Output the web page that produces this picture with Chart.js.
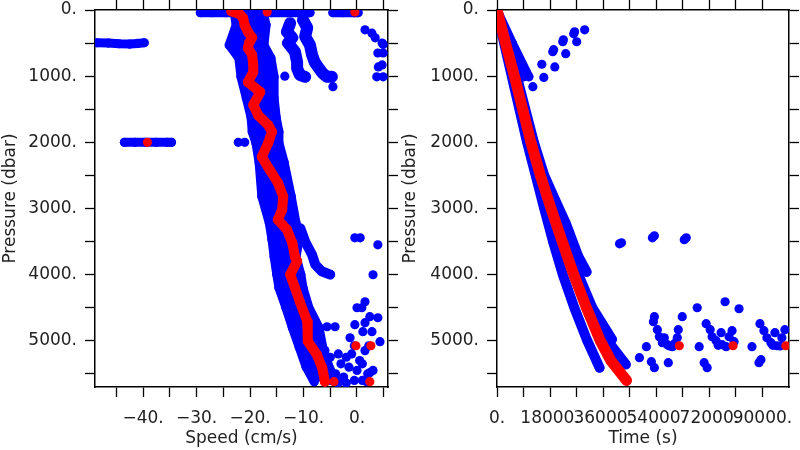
<!DOCTYPE html>
<html>
<head>
<meta charset="utf-8">
<script src="https://cdn.jsdelivr.net/npm/chart.js@4.4.1/dist/chart.umd.min.js"></script>
<style>
  body { margin: 0; background: #fff; }
  #wrap { display: flex; width: 800px; height: 450px; }
  canvas { display: block; }
</style>
</head>
<body>
<div id="wrap">
  <canvas id="speedChart" width="400" height="450"></canvas>
  <canvas id="timeChart" width="400" height="450"></canvas>
</div>
<script>
// ---- tick values ----
const pressTicks = [0, 500, 1000, 1500, 2000, 2500, 3000, 3500, 4000, 4500, 5000, 5500];
const speedTicks = [-45, -40, -35, -30, -25, -20, -15, -10, -5, 0, 5];
const timeTicks = [0, 9000, 18000, 27000, 36000, 45000, 54000, 63000, 72000, 81000, 90000];

// ---- left panel: speed (cm/s) against pressure (dbar) ----
// edges of the main blue cloud
const bandPres = [20, 227, 530, 725, 1010, 1330, 1630, 1840, 2010, 2310, 2820, 3220, 3470, 3730, 4000, 4200, 4500, 4800, 5100, 5400, 5620];
const bandLeftSpeed = [-23.0, -22.6, -23.9, -22.1, -21.7, -20.7, -19.8, -19.6, -18.9, -18.3, -17.8, -16.4, -15.9, -15.5, -15.0, -14.6, -13.3, -12.1, -10.8, -9.5, -8.0];
const bandRightSpeed = [-17.6, -17.0, -17.4, -16.1, -15.5, -15.5, -15.1, -14.6, -14.6, -13.6, -12.3, -11.4, -10.8, -11.4, -10.5, -10.1, -9.0, -7.1, -6.4, -5.2, -3.9];

// red mean profile
const meanPres = [20, 60, 120, 230, 330, 420, 500, 575, 680, 830, 940, 1090, 1240, 1435, 1590, 1740, 1840, 2010, 2220, 2420, 2610, 2820, 3020, 3170, 3320, 3520, 3730, 3800, 4000, 4200, 4410, 4710, 5010, 5210, 5410, 5620];
const meanSpeed = [-23.5, -22.0, -21.3, -21.0, -20.4, -19.6, -20.2, -20.4, -19.6, -19.4, -19.4, -20.4, -18.1, -19.4, -18.5, -16.6, -15.9, -16.6, -17.8, -16.3, -14.8, -13.8, -14.0, -14.8, -13.1, -12.1, -11.6, -11.2, -12.5, -11.6, -10.7, -9.3, -9.2, -7.5, -6.5, -6.0];
const meanExtraSpeed = [-16.8, -0.4, -39.2, -0.2, 2.6, -4.3, 2.4];
const meanExtraPres = [30, 30, 2000, 5076, 5076, 5620, 5620];

// deep branch that leaves the cloud and stops at 4000 dbar
const branchPres = [3300, 3500, 3700, 3850, 3950, 4000];
const branchSpeed = [-10.6, -9.7, -8.4, -7.8, -6.6, -5.0];

// two short profiles near the surface
const shallowAPres = [200, 330, 420, 500, 630, 785, 880, 980, 1010];
const shallowASpeed = [-12.5, -13.1, -12.1, -12.9, -11.6, -11.2, -11.2, -10.7, -9.7];
const shallowBPres = [150, 270, 400, 530, 680, 790, 860, 950, 1010, 1010];
const shallowBSpeed = [-10.1, -9.3, -9.7, -8.8, -8.4, -7.9, -7.3, -6.5, -5.6, -4.7];

// horizontal rows of points
const surfaceRowSpeed = [-29.3, -27, -24.5, -22, -19, -16, -13, -10.5, -8.8];
const surfaceRowPres = [40, 40, 40, 40, 40, 40, 40, 40, 40];
const surfaceRow2Speed = [-4.5, -2.5, -0.5, 0.2];
const surfaceRow2Pres = [40, 40, 40, 40];
const row500Speed = [-48.6, -46.5, -44.5, -42.5, -41, -39.8];
const row500Pres = [495, 500, 510, 515, 505, 495];
const row2000Speed = [-43.5, -41.5, -39.5, -37.5, -35.5, -34.7];
const row2000Pres = [2000, 2000, 2000, 2000, 2000, 2000];

// loose points
const looseSpeed = [-4.5, -13.5, -22.2, -21.0,
  1.5, 2.8, 3.4, 4.7, 4.9, 3.9, 4.9, 4.7, 4.0, 3.7, 4.9,
  -0.4, 0.6, 3.9, 3.0, 1.5, 0, 0.9, 2.4, 3.9, -0.4, 1.5, -5.6, -4.1, -1.3, 1.1, 2.8, 4.3, -0.5, 2.2,
  -7, -6, -5, -3.5, -2, -1, 0.5, 1.5, -3, -1.5, 0, 1, -4, -2.5, -0.5, 1, -5, -3.5, 2, 2.4, 3.0, 1.8, -2, -6, -6.5];
const loosePres = [1160, 1000, 2000, 2000,
  300, 350, 420, 500, 520, 650, 650, 830, 860, 1010, 1010,
  3444, 3444, 3550, 4003, 4411, 4502, 4502, 4637, 4653, 4758, 4728, 4789, 4789, 4955, 4864, 4864, 5015, 5076, 5076,
  5000, 5150, 5250, 5200, 5250, 5200, 5300, 5150, 5350, 5400, 5450, 5350, 5500, 5550, 5600, 5600, 5600, 5640, 5500, 5483, 5450, 5620, 5640, 5450, 5550];

// ---- right panel: time (s) against pressure (dbar) ----
const meanDescentPres = [0, 500, 1000, 1500, 2000, 2500, 3000, 3500, 4000, 4500, 5000, 5300, 5600];
const meanDescentTime = [0, 2900, 5900, 8700, 11500, 14700, 18300, 22100, 26000, 30300, 35000, 38600, 43900];
const fastPres = [0, 500, 1000, 1500, 2000, 2500, 3000, 3500, 4000, 4500, 5000, 5410];
const fastTime = [0, 2400, 5000, 7600, 10200, 13100, 16000, 19000, 22300, 26200, 30600, 34800];
const upperPres = [0, 500, 1000, 1500, 2000, 2500, 2900, 3220, 3730, 3960];
const upperTime = [0, 3300, 6700, 9600, 12500, 16000, 20000, 23300, 27600, 30400];
const slowAPres = [0, 500, 1000, 1500, 2000, 2500, 3000, 3500, 4000, 4500, 4980];
const slowATime = [0, 3100, 6400, 9300, 12300, 15700, 19400, 23400, 27600, 32300, 39000];
const slowBPres = [0, 500, 1000, 1500, 2000, 2500, 3000, 3500, 4000, 4500, 5000, 5360];
const slowBTime = [0, 3000, 6200, 9000, 11900, 15300, 19000, 22900, 27000, 31500, 37500, 43700];
const wedgePres = [0, 500, 1010];
const wedgeATime = [0, 5200, 10800];
const wedgeBTime = [0, 4300, 9000];
const wedgeCTime = [0, 3600, 7500];

const redTimeExtra = [61800, 80030, 97930];
const redPresExtra = [5076, 5076, 5076];

const scatterTime = [12160, 15200, 15870, 18900, 19200, 19590, 22290, 22500, 23300, 26000, 26300, 27020, 29720,
  41540, 42210, 52680, 53360, 63490, 64160, 67880, 77330, 82060,
  48290, 50650, 52340, 53360, 53360, 53020, 54370, 55040, 56730, 56060, 57750, 59440, 61120, 61460, 62810, 58080, 58500, 60300,
  68550, 70240, 71250, 70910, 72270, 72940, 74290, 75980, 76320, 77670, 79700, 78680, 80370, 75000,
  86450, 88810, 89490, 89150, 90500, 91510, 92870, 94220, 94890, 96580, 97600, 93500, 96000];
const scatterPres = [1160, 820, 1020, 630, 600, 860, 480, 450, 660, 360, 330, 480, 300,
  3535, 3520, 3444, 3414, 3474, 3444, 4502, 4411, 4517,
  5257, 5091, 5317, 5408, 4637, 4713, 4834, 4940, 4955, 5030, 5060, 5091, 4955, 4834, 4637, 5332, 5080, 5040,
  5091, 5332, 5408, 4743, 4834, 4940, 5000, 4879, 5060, 5091, 4849, 4940, 5015, 5070,
  5091, 5332, 5287, 4743, 4849, 4955, 5030, 4879, 5076, 4955, 4834, 5070, 5080];

const BLUE = '#0000ff';
const RED = '#ff0000';

function toPoints(xs, ps) {
  return xs.map((x, i) => ({ x: x, y: ps[i] }));
}

// a thick line through round markers, so a profile looks like overlapping dots
function trace(xs, ps, color, extra) {
  return Object.assign({
    type: 'line',
    data: toPoints(xs, ps),
    borderColor: color,
    backgroundColor: color,
    borderWidth: 9,
    borderCapStyle: 'round',
    borderJoinStyle: 'round',
    pointRadius: 4.6,
    pointBorderWidth: 0,
    pointBackgroundColor: color,
    pointHoverRadius: 4.6,
    fill: false,
    tension: 0,
    order: color === RED ? 0 : 1,
    xAxisID: 'x',
    yAxisID: 'y'
  }, extra || {});
}

function dots(xs, ps, color) {
  return trace(xs, ps, color, { showLine: false });
}

function speedLabel(v) {
  if (v % 10 !== 0) return '';
  if (v === 0) return '0.';
  return (v < 0 ? '\u2212' + (-v) : v) + '.';
}
function timeLabel(v) {
  return v % 18000 === 0 ? v + '.' : '';
}
function pressLabel(v) {
  return v % 1000 === 0 ? v + '.' : '';
}

// fixed box sizes so the plot frame lands where it should
function fixBox(w, h) {
  return s => {
    if (w !== null) s.width = w;
    if (h !== null) s.height = h;
    s.paddingTop = 0;
    s.paddingBottom = 0;
    s.paddingLeft = 0;
    s.paddingRight = 0;
  };
}

function buildScales(xMin, xMax, xTicks, xFormat, xTitle, leftWidth, rightWidth) {
  const font = { family: 'DejaVu Sans', size: 17 };
  const grid = { drawOnChartArea: false, drawTicks: true, tickLength: 10, tickColor: '#000', tickWidth: 1.3 };
  const border = { display: true, color: '#000', width: 1.5 };
  const setTicks = vals => scale => { scale.ticks = vals.map(v => ({ value: v })); };
  return {
    x: {
      type: 'linear', position: 'bottom', min: xMin, max: xMax,
      afterBuildTicks: setTicks(xTicks),
      afterFit: fixBox(null, 63),
      grid: grid, border: border,
      ticks: { font: font, color: '#222', padding: 11, maxRotation: 0, autoSkip: false,
               callback: v => xFormat(Math.round(v)) },
      title: { display: true, text: xTitle, font: font, color: '#222', padding: { top: 0, bottom: 1 } }
    },
    x2: {
      type: 'linear', position: 'top', min: xMin, max: xMax,
      afterBuildTicks: setTicks(xTicks),
      afterFit: fixBox(null, 10),
      grid: grid, border: border,
      ticks: { display: false }
    },
    y: {
      type: 'linear', position: 'left', min: 0, max: 5700, reverse: true,
      afterBuildTicks: setTicks(pressTicks),
      afterFit: fixBox(leftWidth, null),
      grid: grid, border: border,
      ticks: { font: font, color: '#222', padding: 8, autoSkip: false,
               callback: v => pressLabel(Math.round(v)) },
      title: { display: true, text: 'Pressure (dbar)', font: font, color: '#222', padding: { top: 0, bottom: 0 } }
    },
    y2: {
      type: 'linear', position: 'right', min: 0, max: 5700, reverse: true,
      afterBuildTicks: setTicks(pressTicks),
      afterFit: fixBox(rightWidth, null),
      grid: grid, border: border,
      ticks: { display: false }
    }
  };
}

const commonOptions = {
  responsive: false,
  animation: false,
  indexAxis: 'y',
  layout: { padding: 0 },
  plugins: { legend: { display: false }, tooltip: { enabled: false } },
  events: []
};

// left chart
new Chart(document.getElementById('speedChart'), {
  type: 'line',
  data: {
    datasets: [
      trace(meanSpeed, meanPres, RED, { borderWidth: 10, pointRadius: 5 }),
      dots(meanExtraSpeed, meanExtraPres, RED),
      trace(bandLeftSpeed, bandPres, BLUE, { fill: '+1' }),
      trace(bandRightSpeed, bandPres, BLUE),
      trace(branchSpeed, branchPres, BLUE, { borderWidth: 10 }),
      trace(shallowASpeed, shallowAPres, BLUE, { borderWidth: 12 }),
      trace(shallowBSpeed, shallowBPres, BLUE, { borderWidth: 12 }),
      trace(surfaceRowSpeed, surfaceRowPres, BLUE),
      trace(surfaceRow2Speed, surfaceRow2Pres, BLUE),
      trace(row500Speed, row500Pres, BLUE),
      trace(row2000Speed, row2000Pres, BLUE),
      dots(looseSpeed, loosePres, BLUE)
    ]
  },
  options: Object.assign({}, commonOptions, {
    scales: buildScales(-49, 5.8, speedTicks, speedLabel, 'Speed (cm/s)', 95, 12)
  })
});

// right chart
new Chart(document.getElementById('timeChart'), {
  type: 'line',
  data: {
    datasets: [
      trace(meanDescentTime, meanDescentPres, RED, { borderWidth: 11, pointRadius: 5 }),
      dots(redTimeExtra, redPresExtra, RED),
      trace(fastTime, fastPres, BLUE, { borderWidth: 10 }),
      trace(upperTime, upperPres, BLUE, { borderWidth: 10 }),
      trace(slowATime, slowAPres, BLUE, { borderWidth: 10 }),
      trace(slowBTime, slowBPres, BLUE, { borderWidth: 10 }),
      trace(wedgeATime, wedgePres, BLUE),
      trace(wedgeBTime, wedgePres, BLUE),
      trace(wedgeCTime, wedgePres, BLUE),
      dots(scatterTime, scatterPres, BLUE)
    ]
  },
  options: Object.assign({}, commonOptions, {
    scales: buildScales(0, 99000, timeTicks, timeLabel, 'Time (s)', 97, 11)
  })
});
</script>
</body>
</html>
